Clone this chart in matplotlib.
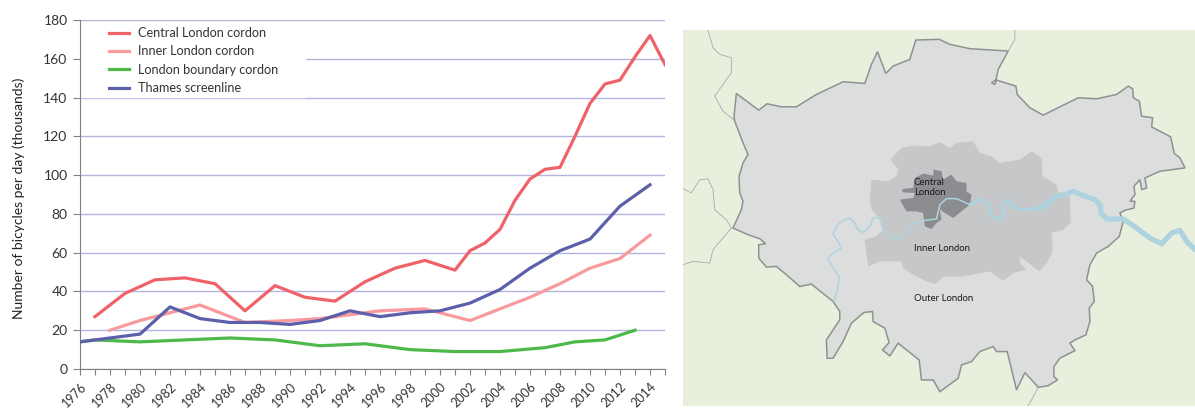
import matplotlib
matplotlib.use("Agg")
import matplotlib.pyplot as plt
from matplotlib.patches import Polygon, Rectangle

plt.rcParams['font.family'] = ['Lato', 'DejaVu Sans']

# chart data (thousands of bicycles per day)
central_years = [1977, 1979, 1981, 1983, 1985, 1987, 1989, 1991, 1993, 1995, 1997, 1999, 2001, 2002, 2003, 2004,
                 2005, 2006, 2007, 2008, 2009, 2010, 2011, 2012, 2013, 2014, 2015]
central_vals = [27, 39, 46, 47, 44, 30, 43, 37, 35, 45, 52, 56, 51, 61, 65, 72,
                87, 98, 103, 104, 120, 137, 147, 149, 161, 172, 157]
inner_years = [1978, 1980, 1982, 1984, 1986, 1987, 1990, 1992, 1994, 1996, 1999, 2002, 2004, 2006, 2008, 2010, 2012, 2014]
inner_vals = [20, 25, 29, 33, 27, 24, 25, 26, 28, 30, 31, 25, 31, 37, 44, 52, 57, 69]
boundary_years = [1976, 1977, 1980, 1983, 1986, 1989, 1992, 1995, 1998, 2001, 2004, 2007, 2009, 2011, 2013]
boundary_vals = [14, 15, 14, 15, 16, 15, 12, 13, 10, 9, 9, 11, 14, 15, 20]
thames_years = [1976, 1978, 1980, 1982, 1984, 1986, 1988, 1990, 1992, 1994, 1996, 1998, 2000, 2002, 2004, 2006,
                2008, 2010, 2012, 2014]
thames_vals = [14, 16, 18, 32, 26, 24, 24, 23, 25, 30, 27, 29, 30, 34, 41, 52, 61, 67, 84, 95]

year_labels = list(range(1976, 2015, 2))
y_ticks = list(range(0, 181, 20))

# map shapes
outer_shape = [(160, 625), (185, 570), (190, 545), (180, 520), (178, 470), (190, 430), (205, 405), (190, 370), (165, 305),
               (163, 290), (170, 222), (237, 272), (262, 253), (305, 262), (350, 262), (410, 225), (490, 187), (555, 192),
               (575, 135), (593, 97), (618, 162), (640, 140), (690, 120), (708, 62), (778, 60), (810, 75), (870, 88),
               (985, 95), (955, 150), (948, 182), (935, 190), (945, 195), (950, 182), (1008, 200), (1012, 225), (1050, 265),
               (1090, 287), (1140, 262), (1195, 235), (1250, 238), (1310, 225), (1345, 200), (1358, 208), (1360, 235),
               (1378, 245), (1385, 290), (1418, 295), (1415, 322), (1472, 352), (1483, 402), (1500, 415), (1515, 445),
               (1440, 455), (1395, 475), (1400, 505), (1385, 510), (1380, 480), (1362, 500), (1365, 525), (1350, 545),
               (1365, 545), (1362, 565), (1335, 572), (1320, 580), (1330, 605), (1318, 650), (1285, 680), (1250, 700),
               (1230, 735), (1220, 780), (1238, 800), (1243, 845), (1228, 865), (1230, 905), (1218, 945), (1185, 960),
               (1170, 970), (1185, 992), (1140, 1015), (1122, 1040), (1122, 1070), (1133, 1080), (1105, 1097), (1075, 1102),
               (1035, 1058), (1010, 1110), (982, 995), (950, 995), (940, 980), (900, 995), (875, 1025), (845, 1035),
               (835, 1075), (780, 1115), (760, 1080), (725, 1080), (718, 1020), (655, 970), (630, 1008), (608, 990),
               (628, 968), (615, 925), (580, 905), (578, 875), (552, 878), (515, 910), (490, 965), (460, 1015), (442, 1015),
               (440, 960), (480, 900), (480, 875), (460, 845), (395, 793), (360, 800), (320, 765), (290, 740), (260, 742),
               (237, 715), (237, 675), (258, 672), (240, 657), (205, 645)]
inner_shape = [(632, 420), (665, 385), (700, 378), (750, 380), (780, 368), (810, 385), (830, 370), (880, 365), (900, 400),
               (935, 410), (960, 430), (1020, 420), (1055, 395), (1085, 415), (1088, 470), (1130, 495), (1135, 520),
               (1170, 530), (1172, 610), (1150, 630), (1115, 640), (1118, 695), (1100, 730), (1078, 755), (1040, 725),
               (1020, 712), (1020, 730), (1040, 750), (1000, 760), (970, 783), (930, 755), (850, 770), (790, 770),
               (768, 793), (740, 785), (700, 765), (670, 745), (665, 725), (600, 725), (565, 740), (555, 660), (590, 650),
               (610, 630), (605, 600), (575, 570), (570, 540), (575, 480), (625, 485), (650, 470), (655, 450)]
central_shape = [(660, 540), (700, 535), (705, 520), (668, 518), (668, 508), (700, 505), (705, 475), (730, 462), (760, 468),
                 (762, 450), (785, 455), (790, 480), (815, 465), (830, 485), (860, 490), (860, 515), (875, 525), (870, 555),
                 (845, 575), (820, 595), (780, 570), (785, 600), (770, 610), (755, 628), (735, 620), (730, 580), (710, 575),
                 (680, 575)]
river_thin = [(462, 845), (475, 800), (478, 770), (460, 745), (445, 715), (460, 700), (485, 685), (472, 660), (460, 645),
              (470, 620), (485, 605), (510, 595), (525, 610), (535, 630), (550, 638), (570, 620), (580, 595), (600, 595),
              (610, 630), (630, 653), (660, 658), (680, 640), (690, 615), (735, 602), (770, 598), (780, 555), (800, 537),
              (830, 537), (870, 555)]
river_mid = [(870, 555), (905, 538), (925, 550), (935, 590), (960, 602), (975, 585), (965, 555), (985, 540), (1000, 565),
             (1040, 570), (1080, 565)]
river_wide = [(1080, 565), (1105, 550), (1130, 528), (1155, 525), (1180, 515), (1210, 528), (1245, 540), (1260, 555),
              (1263, 580), (1280, 598), (1330, 598), (1370, 625), (1410, 655), (1445, 672), (1475, 640), (1500, 632),
              (1520, 665), (1545, 690)]
county_lines = [
    [(85, 32), (100, 85), (120, 105), (155, 115), (155, 160), (105, 230), (130, 275), (165, 303)],
    [(10, 507), (35, 520), (60, 480), (85, 478), (100, 510), (105, 570), (140, 600), (155, 625)],
    [(10, 735), (40, 725), (90, 730), (100, 690), (155, 625)],
    [(1005, 32), (1005, 60), (985, 95)],
    [(1075, 1102), (1045, 1158)],
]

W, H = 1195, 409
fig = plt.figure(figsize=(W / 100, H / 100), dpi=100)

# line chart
ax = fig.add_axes([80 / W, 1 - 369 / H, 585 / W, 349 / H])
ax.plot(central_years, central_vals, color='#f0626a', lw=2.3, label='Central London cordon', zorder=3)
ax.plot(inner_years, inner_vals, color='#f89a9e', lw=2.3, label='Inner London cordon', zorder=3)
ax.plot(boundary_years, boundary_vals, color='#4fb84a', lw=2.3, label='London boundary cordon', zorder=3)
ax.plot(thames_years, thames_vals, color='#5c5fa9', lw=2.3, label='Thames screenline', zorder=3)

ax.set_xlim(1976, 2015)
ax.set_ylim(0, 180)
ax.set_xticks(range(1976, 2016))
ax.set_xticklabels([str(y) if y in year_labels else '' for y in range(1976, 2016)],
                   rotation=45, ha='right', rotation_mode='anchor', fontsize=9, color='#333333')
ax.set_yticks(y_ticks)
ax.tick_params(axis='y', labelsize=10, colors='#333333', length=5, width=0.8, color='#808080', pad=4)
ax.tick_params(axis='x', length=4, width=0.8, color='#808080', pad=4)
ax.grid(True, axis='y', color='#b4b4de', lw=1)
ax.set_axisbelow(True)
ax.set_ylabel('Number of bicycles per day (thousands)', fontsize=10, color='#222222')
ax.yaxis.set_label_coords(-0.094, 0.49)
for s in ['top', 'right']:
    ax.spines[s].set_visible(False)
for s in ['left', 'bottom']:
    ax.spines[s].set_color('#808080')

# white block behind the legend hides part of the 160 line
ax.add_patch(Rectangle((0.002, 0.78), 0.382, 0.21, transform=ax.transAxes, color='white', zorder=1.5))
ax.legend(loc='upper left', bbox_to_anchor=(0.035, 1.005), frameon=False, fontsize=9.1, labelspacing=0.5,
          handlelength=1.55, handletextpad=0.7, labelcolor='#333333', borderpad=0.2)

# map panel, in traced picture coordinates
mp = fig.add_axes([683 / W, 1 - 406 / H, 512 / W, 376 / H])
mp.set_xlim(10, 1545)
mp.set_ylim(1158, 32)
mp.axis('off')
mp.add_patch(Rectangle((10, 32), 1535, 1126, color='#e8efdc', zorder=0))
for line in county_lines:
    mp.plot(*zip(*line), color='#a9aca6', lw=0.6, zorder=1)
mp.add_patch(Polygon(outer_shape, closed=True, facecolor='#dcdddd', edgecolor='#8f9193', lw=1.1, zorder=2))
mp.add_patch(Polygon(inner_shape, closed=True, facecolor='#c6c7c9', edgecolor='none', zorder=3))
mp.add_patch(Polygon(central_shape, closed=True, facecolor='#8b8c90', edgecolor='none', zorder=4))
mp.plot(*zip(*river_thin), color='#aed3df', lw=1.1, zorder=5, solid_capstyle='round', solid_joinstyle='round')
mp.plot(*zip(*river_mid), color='#aed3df', lw=2.2, zorder=5, solid_capstyle='round', solid_joinstyle='round')
mp.plot(*zip(*river_wide), color='#aed3df', lw=3.8, zorder=5, solid_capstyle='round', solid_joinstyle='round')

for txt, x, y in [('Central', 702, 488), ('London', 702, 518), ('Inner London', 702, 686), ('Outer London', 702, 836)]:
    mp.text(x, y, txt, fontsize=6.9, color='#1a1a1a', ha='left', va='center', zorder=6)

fig.savefig('out.png', dpi=100)
